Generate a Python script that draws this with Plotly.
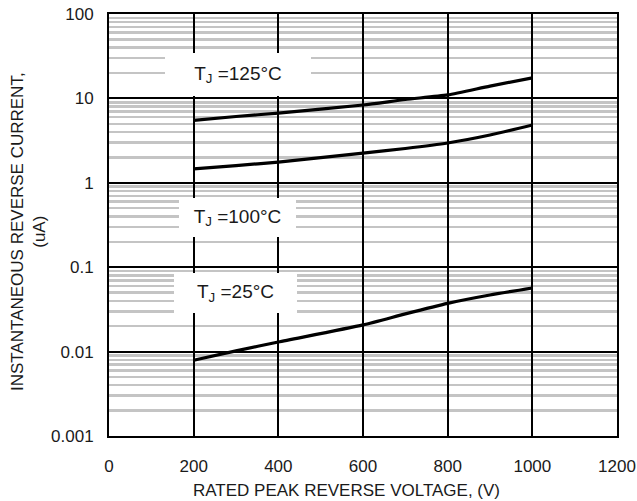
import math
import plotly.graph_objects as go

# ---- data ----
voltage = [200, 300, 400, 600, 700, 800, 900, 1000]
i_125 = [5.5, 6.1, 6.7, 8.35, 9.7, 11.0, 14.0, 17.5]
i_100 = [1.46, 1.6, 1.76, 2.25, 2.55, 2.96, 3.68, 4.84]
i_25 = [0.0079, 0.0102, 0.013, 0.0207, 0.028, 0.0373, 0.0468, 0.0567]

x_ticks = [0, 200, 400, 600, 800, 1000, 1200]
y_ticks = [0.001, 0.01, 0.1, 1, 10, 100]
y_tick_text = ["0.001", "0.01", "0.1", "1", "10", "100"]

labels = ["T<sub>J</sub> =125°C", "T<sub>J</sub> =100°C", "T<sub>J</sub> =25°C"]
label_x = [305, 303, 299]
label_y = [19.2, 0.388, 0.0494]
label_w = [146, 117, 123]
label_h = [43, 39, 40]

minor_vals = [k * 10 ** e for e in range(-3, 2) for k in range(2, 10)]

FONT = "Liberation Sans, Arial, sans-serif"
TXT = "#1a1a1a"

fig = go.Figure()
for ys in (i_125, i_100, i_25):
    fig.add_trace(go.Scatter(x=voltage, y=ys, mode="lines",
                             line=dict(color="black", width=3.2, shape="spline", smoothing=0.6),
                             showlegend=False, hoverinfo="skip"))

for t, lx, ly, w, h in zip(labels, label_x, label_y, label_w, label_h):
    fig.add_annotation(x=lx, y=math.log10(ly), xref="x", yref="y", text=t,
                       showarrow=False, bgcolor="white", borderwidth=0, borderpad=0,
                       width=w, height=h, align="center", valign="middle",
                       font=dict(family=FONT, size=19, color=TXT))

fig.add_annotation(x=0.4685, y=-0.128, xref="paper", yref="paper",
                   text="RATED PEAK REVERSE VOLTAGE, (V)", showarrow=False,
                   xanchor="center", yanchor="middle",
                   font=dict(family=FONT, size=17, color=TXT))
fig.add_annotation(x=-0.1594, y=0.4834, xref="paper", yref="paper",
                   text="INSTANTANEOUS REVERSE CURRENT,<br>(uA)", showarrow=False,
                   textangle=-90, xanchor="center", yanchor="middle",
                   font=dict(family=FONT, size=17, color=TXT))

fig.update_layout(
    width=637, height=501,
    margin=dict(l=109, r=20, t=14, b=65, autoexpand=False),
    paper_bgcolor="white", plot_bgcolor="white",
    font=dict(family=FONT, size=17, color=TXT),
    xaxis=dict(range=[0, 1200], tickvals=x_ticks, showgrid=True, gridcolor="black",
               gridwidth=2, showline=True, linecolor="black", linewidth=2, mirror=True,
               zeroline=False, ticks="", ticklabelstandoff=14, automargin=False,
               ticklabeloverflow="allow",
               tickfont=dict(family=FONT, size=17, color=TXT)),
    yaxis=dict(type="log", range=[-3, 2], tickvals=y_ticks, ticktext=y_tick_text,
               showgrid=True, gridcolor="black", gridwidth=2,
               showline=True, linecolor="black", linewidth=2, mirror=True,
               zeroline=False, ticks="", ticklabelstandoff=10, automargin=False,
               ticklabeloverflow="allow",
               tickfont=dict(family=FONT, size=17, color=TXT),
               minor=dict(tickvals=minor_vals, showgrid=True, gridcolor="#c4c4c4",
                          gridwidth=2.5, ticks="")),
)

# remove the page's default 8px body margin so the figure sits at the window origin
fig.write_html("out.html",
               config={"displayModeBar": False, "staticPlot": True},
               post_script="document.body.style.margin='0';document.body.style.overflow='hidden';")
